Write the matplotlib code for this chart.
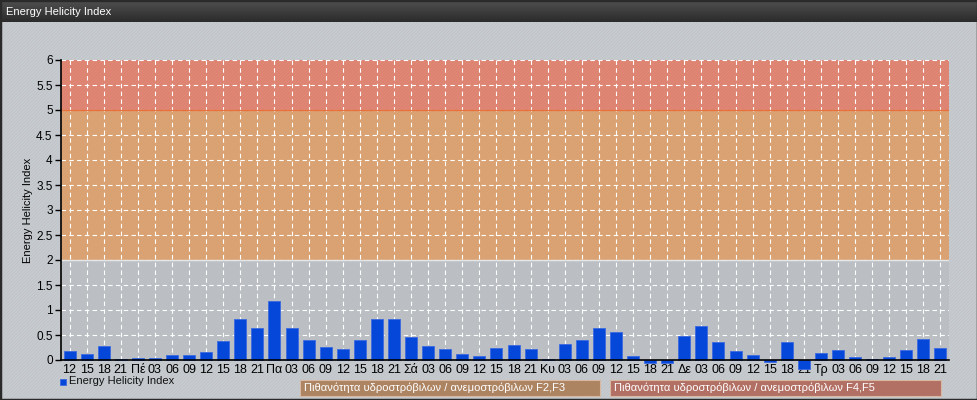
import matplotlib
matplotlib.use("Agg")
import matplotlib.pyplot as plt
from matplotlib.patches import Rectangle
import numpy as np

title = "Energy Helicity Index"
x_labels = ["12", "15", "18", "21",
            "Πέ", "03", "06", "09", "12", "15", "18", "21",
            "Πα", "03", "06", "09", "12", "15", "18", "21",
            "Σά", "03", "06", "09", "12", "15", "18", "21",
            "Κυ", "03", "06", "09", "12", "15", "18", "21",
            "Δε", "03", "06", "09", "12", "15", "18", "21",
            "Τρ", "03", "06", "09", "12", "15", "18", "21"]
ehi_values = [0.18, 0.13, 0.28, 0.02,
              0.05, 0.04, 0.10, 0.10, 0.16, 0.39, 0.83, 0.64,
              1.18, 0.64, 0.40, 0.26, 0.22, 0.40, 0.82, 0.82,
              0.47, 0.28, 0.22, 0.13, 0.09, 0.24, 0.31, 0.23,
              0.03, 0.32, 0.40, 0.65, 0.56, 0.08, -0.06, -0.05,
              0.49, 0.68, 0.37, 0.18, 0.10, -0.03, 0.37, -0.18,
              0.14, 0.20, 0.07, 0.02, 0.07, 0.20, 0.42, 0.25]
y_ticks = [0, 0.5, 1, 1.5, 2, 2.5, 3, 3.5, 4, 4.5, 5, 5.5, 6]
bands = [(2, 5, "#d9a070"), (5, 6, "#de8270")]
legend_boxes = [("Πιθανότητα υδροστρόβιλων / ανεμοστρόβιλων F2,F3", "#ad8462"),
                ("Πιθανότητα υδροστρόβιλων / ανεμοστρόβιλων F4,F5", "#b27065")]

plt.rcParams['font.family'] = ['Liberation Sans', 'DejaVu Sans']
plt.rcParams['hatch.linewidth'] = 0.5
FS = 8

W, H = 978, 400
fig = plt.figure(figsize=(W / 100, H / 100), dpi=100)
fig.patch.set_facecolor("#c8ccd0")

def fx(px):
    return px / W

def fy(py):
    return 1 - py / H

# background hatch (under everything)
fig.patches.append(Rectangle((0, 0), 1, 1, transform=fig.transFigure,
                             facecolor="none", edgecolor="#bcc1c6", hatch="//////////",
                             linewidth=0, zorder=-5))
# title bar
grad = np.linspace(0, 1, 50).reshape(-1, 1)
tax = fig.add_axes([0, fy(22), 1, 22 / H], zorder=5)
tax.imshow(grad, aspect="auto", cmap=matplotlib.colors.LinearSegmentedColormap.from_list(
    "g", ["#505050", "#2b2b2b"]), extent=[0, 1, 0, 1])
tax.set_axis_off()
fig.text(fx(6), fy(12), title, color="white", fontsize=FS, va="center", ha="left", zorder=6)

# border
fig.patches.append(Rectangle((0, 0), 1, 1, transform=fig.transFigure,
                             facecolor="none", edgecolor="#2a2a2a", linewidth=2.5, zorder=10))

ax = fig.add_axes([fx(61), fy(360), fx(949 - 61), (360 - 60) / H])
ax.set_facecolor("#babec3")
x = np.arange(len(ehi_values))
ax.set_xlim(-0.5, len(ehi_values) - 0.5)
ax.set_ylim(0, 6)

for lo, hi, c in bands:
    ax.axhspan(lo, hi, color=c, zorder=0.5, linewidth=0)
ax.add_patch(Rectangle((0, 0), 1, 1, transform=ax.transAxes, facecolor="none",
                       edgecolor=(1, 1, 1, 0.08), hatch="//////////", linewidth=0, zorder=0.6))
ax.axhline(5, color="#e8703c", linewidth=1, zorder=0.7)
ax.axhline(2, color="#e6e6e6", linewidth=1, zorder=0.7)

ax.grid(True, color=(1, 1, 1, 0.42), linestyle=(0, (4, 3)), linewidth=0.8)
ax.set_axisbelow(True)

ax.bar(x, ehi_values, width=0.7, color="#0447d9", edgecolor="#3c6ae0",
       linewidth=0.6, zorder=3, clip_on=False)

ax.set_yticks(y_ticks)
ax.set_yticklabels([f"{t:g}" for t in y_ticks], fontsize=FS + 0.5)
ax.set_xticks(x)
ax.set_xticklabels(x_labels, fontsize=FS + 1)
ax.tick_params(axis="x", length=0, pad=3)
ax.tick_params(axis="y", length=4, width=1, direction="out", pad=2)
for s in ["top", "right"]:
    ax.spines[s].set_visible(False)
ax.spines["left"].set_color("black")
ax.spines["bottom"].set_color("black")
ax.spines["bottom"].set_zorder(4)
ax.spines["left"].set_linewidth(1.2)
ax.spines["bottom"].set_linewidth(1.2)
ax.set_ylabel("Energy Helicity Index", fontsize=FS)
ax.yaxis.set_label_coords(-0.031, 0.5)

# legend
fig.patches.append(Rectangle((fx(60), fy(385)), fx(6), 6 / H, transform=fig.transFigure,
                             facecolor="#0447d9", edgecolor="#3c6ae0", linewidth=0.6))
fig.text(fx(69), fy(381), "Energy Helicity Index", fontsize=FS, va="center", ha="left", color="#111111")

box_pos = [(300, 600), (610, 941)]
for (txt, col), (l, r) in zip(legend_boxes, box_pos):
    fig.patches.append(Rectangle((fx(l), fy(396)), fx(r - l), 16 / H, transform=fig.transFigure,
                                 facecolor=col, edgecolor="#d8b8a0", linewidth=0.8))
    fig.text(fx(l + 4), fy(388), txt, fontsize=FS, va="center", ha="left", color="white")

fig.savefig("out.png", dpi=100, facecolor=fig.get_facecolor())
